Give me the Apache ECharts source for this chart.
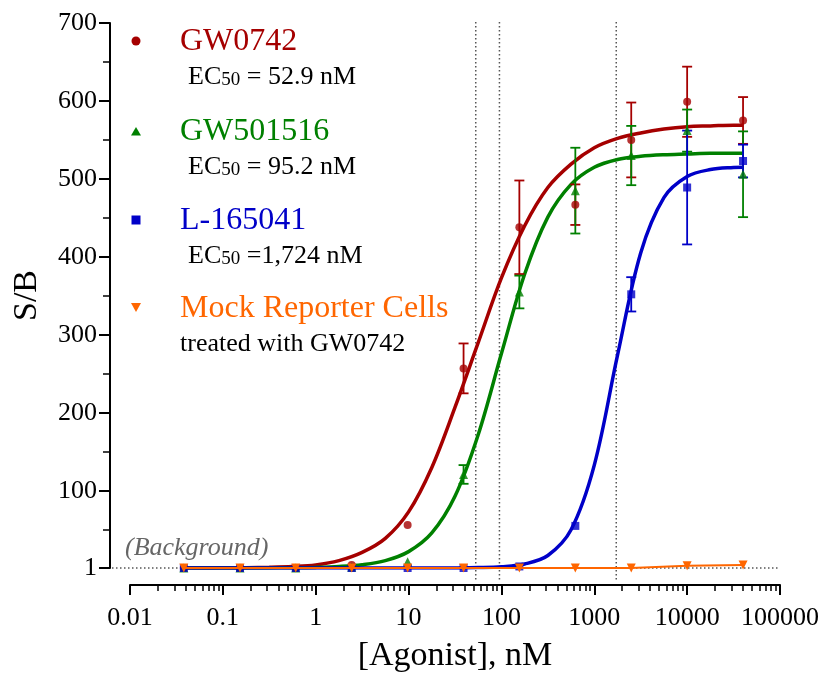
<!DOCTYPE html>
<html><head><meta charset="utf-8">
<script src="https://cdn.jsdelivr.net/npm/echarts@6/dist/echarts.min.js"></script>
<style>html,body{margin:0;padding:0;background:#fff}#c{width:820px;height:673px}</style>
</head><body><div id="c"></div><script>
// ---- data ----
const concentrations = [0.038, 0.153, 0.61, 2.44, 9.77, 39.1, 156, 625, 2500, 10000, 40000];
const gw0742Mean   = [1, 1, 1, 5, 56, 257, 438, 467, 550, 599, 575];
const gw0742Err    = [0, 0, 0, 0, 0, 32, 60, 26, 48, 45, 30];
const gw501516Mean = [1, 1, 1, 2, 9, 121, 355, 485, 530, 562, 506];
const gw501516Err  = [0, 0, 0, 0, 0, 12, 21, 55, 38, 27, 55];
const l165041Mean  = [1, 1, 1, 1, 1, 1, 3, 55, 352, 489, 523];
const l165041Err   = [0, 0, 0, 0, 0, 0, 0, 0, 22, 73, 21];
const mockMean     = [1, 1, 1, 1, 1, 1, 1, 1, 1, 4, 5];

// fitted curves at quarter-decade steps
const curveX      = [0.038, 0.056, 0.1, 0.178, 0.316, 0.562, 1, 1.78, 3.16, 5.62, 10, 17.8, 31.6, 56.2, 100, 178, 316, 562, 1000, 1780, 3160, 5620, 10000, 17800, 31600, 40000];
const gw0742Fit   = [1, 1, 1.2, 1.4, 1.9, 2.9, 5, 10.5, 21, 39, 73, 130, 207, 290, 373, 440, 489, 519, 540, 552, 559, 564, 567, 568, 569, 569];
const gw501516Fit = [1, 1, 1, 1, 1.1, 1.3, 1.8, 2.9, 5.2, 10.4, 22, 46, 93, 172, 276, 378, 451, 493, 515, 525, 529, 531, 532, 533, 533, 533];
const l165041Fit  = [1, 1, 1, 1, 1, 1, 1, 1, 1, 1, 1, 1, 1.1, 1.5, 2.6, 6.1, 17, 50, 133, 274, 405, 476, 503, 512, 514.7, 515];

const ec50Values = [52.9, 95.2, 1724];
const xTickValues = [0.01, 0.1, 1, 10, 100, 1000, 10000, 100000];
const xTickLabels = ['0.01', '0.1', '1', '10', '100', '1000', '10000', '100000'];
const yTickValues = [1, 100, 200, 300, 400, 500, 600, 700];
const yTickLabels = ['1', '100', '200', '300', '400', '500', '600', '700'];
const yMinorTicks = [50, 150, 250, 350, 450, 550, 650];
const seriesNames = ['GW0742', 'GW501516', 'L-165041', 'Mock Reporter Cells'];
const ec50Texts = ['= 52.9 nM', '= 95.2 nM', '=1,724 nM'];

// ---- styles ----
const RED = '#a50000', GREEN = '#008000', BLUE = '#0000c8', ORANGE = '#ff6600';
const SERIF = '"Liberation Serif", "DejaVu Serif", serif';

const xMinorTicks = [];
for (let d = -2; d < 5; d++) { for (let k = 2; k <= 9; k++) xMinorTicks.push(+(k * Math.pow(10, d)).toPrecision(3)); }

function pairs(xs, ys) { return xs.map((x, i) => [x, ys[i]]); }
function errData(xs, m, e) { return xs.map((x, i) => [x, m[i] - e[i], m[i] + e[i], e[i]]).filter(d => d[3] > 0); }

function errSeries(color, data) {
  return {
    type: 'custom', xAxisIndex: 0, yAxisIndex: 0, z: 3, silent: true,
    encode: { x: 0, y: [1, 2] }, data: data,
    renderItem: function (params, api) {
      const x = api.value(0);
      const lo = api.coord([x, api.value(1)]);
      const hi = api.coord([x, api.value(2)]);
      const cw = 5;
      const st = { stroke: color, lineWidth: 1.8, fill: null };
      return { type: 'group', children: [
        { type: 'line', shape: { x1: lo[0], y1: lo[1], x2: hi[0], y2: hi[1] }, style: st },
        { type: 'line', shape: { x1: lo[0] - cw, y1: lo[1], x2: lo[0] + cw, y2: lo[1] }, style: st },
        { type: 'line', shape: { x1: hi[0] - cw, y1: hi[1], x2: hi[0] + cw, y2: hi[1] }, style: st }
      ] };
    }
  };
}
function fitSeries(name, color, ys) {
  return { name: name + ' fit', type: 'line', data: pairs(curveX, ys), smooth: 0.35,
    showSymbol: false, symbol: 'none', lineStyle: { color: color, width: 3.5 }, z: 2, silent: true };
}
function pointSeries(name, color, symbol, size, ys) {
  return { name: name, type: 'scatter', data: pairs(concentrations, ys), symbol: symbol, symbolSize: size,
    itemStyle: { color: color }, z: 4 };
}

const chart = echarts.init(document.getElementById('c'), null, { renderer: 'canvas' });
const axisLineStyle = { color: '#000', width: 2 };
const option = {
  animation: false,
  backgroundColor: '#fff',
  grid: { left: 130, right: 40, top: 23, bottom: 105, containLabel: false, outerBoundsMode: 'none' },
  xAxis: [
    { type: 'log', logBase: 10, min: 0.01, max: 100000, position: 'bottom', offset: 17,
      name: '[Agonist], nM', nameLocation: 'middle', nameGap: 54,
      nameTextStyle: { fontFamily: SERIF, fontSize: 34, color: '#000' },
      axisLine: { show: true, lineStyle: axisLineStyle },
      axisTick: { show: true, length: 10, lineStyle: { color: '#000', width: 2 }, customValues: xTickValues },
      axisLabel: { show: true, customValues: xTickValues, margin: 20, fontFamily: SERIF, fontSize: 26, color: '#000',
        formatter: function (v) { const i = xTickValues.findIndex(t => Math.abs(Math.log10(t) - Math.log10(v)) < 1e-6); return i >= 0 ? xTickLabels[i] : ''; } },
      splitLine: { show: false }, minorTick: { show: false }, minorSplitLine: { show: false } },
    { type: 'log', logBase: 10, min: 0.01, max: 100000, position: 'bottom', offset: 17,
      axisLine: { show: false },
      axisTick: { show: true, length: 6, lineStyle: { color: '#000', width: 1.5 }, customValues: xMinorTicks },
      axisLabel: { show: false }, splitLine: { show: false } }
  ],
  yAxis: [
    { type: 'value', min: 1, max: 700, position: 'left', offset: 20,
      name: 'S/B', nameLocation: 'middle', nameGap: 66, nameRotate: 90,
      nameTextStyle: { fontFamily: SERIF, fontSize: 34, color: '#000' },
      axisLine: { show: true, lineStyle: axisLineStyle },
      axisTick: { show: true, length: 11, lineStyle: { color: '#000', width: 2 }, customValues: yTickValues },
      axisLabel: { show: true, customValues: yTickValues, margin: 13, fontFamily: SERIF, fontSize: 26, color: '#000',
        formatter: function (v) { const i = yTickValues.indexOf(Math.round(v)); return i >= 0 ? yTickLabels[i] : ''; } },
      splitLine: { show: false } },
    { type: 'value', min: 1, max: 700, position: 'left', offset: 20,
      axisLine: { show: false },
      axisTick: { show: true, length: 7, lineStyle: { color: '#000', width: 1.5 }, customValues: yMinorTicks },
      axisLabel: { show: false }, splitLine: { show: false } }
  ],
  series: [
    fitSeries(seriesNames[0], RED, gw0742Fit),
    fitSeries(seriesNames[1], GREEN, gw501516Fit),
    fitSeries(seriesNames[2], BLUE, l165041Fit),
    errSeries(RED, errData(concentrations, gw0742Mean, gw0742Err)),
    errSeries(GREEN, errData(concentrations, gw501516Mean, gw501516Err)),
    errSeries(BLUE, errData(concentrations, l165041Mean, l165041Err)),
    pointSeries(seriesNames[0], RED, 'circle', 8, gw0742Mean),
    pointSeries(seriesNames[1], GREEN, 'triangle', 9, gw501516Mean),
    pointSeries(seriesNames[2], BLUE, 'rect', 8, l165041Mean),
    { name: seriesNames[3], type: 'line', data: pairs(concentrations, mockMean), symbol: 'triangle', symbolRotate: 180,
      symbolSize: 9, showSymbol: true, itemStyle: { color: ORANGE }, lineStyle: { color: ORANGE, width: 2 }, z: 5 }
  ]
};
chart.setOption(option);

// ---- reference lines, legend block, annotation (positions from the library's scales) ----
const toX = v => chart.convertToPixel({ xAxisIndex: 0 }, v);
const toY = v => chart.convertToPixel({ yAxisIndex: 0 }, v);
const dotted = { stroke: '#555', lineWidth: 1.5, lineDash: [1.5, 2.5] };
const g = [];
const yTop = toY(700) - 1, yBase = toY(1);
ec50Values.forEach(v => {
  const x = toX(v);
  g.push({ type: 'line', z: 1, silent: true, shape: { x1: x, y1: yTop, x2: x, y2: yBase + 14 }, style: dotted });
});
g.push({ type: 'line', z: 1, silent: true, shape: { x1: toX(0.01) - 18, y1: yBase, x2: toX(100000), y2: yBase }, style: dotted });
g.push({ type: 'text', z: 10, silent: true, x: 125, y: yBase - 20,
  style: { text: '(Background)', fill: '#666', font: 'italic 26px ' + SERIF, verticalAlign: 'middle', align: 'left' } });

const legendColors = [RED, GREEN, BLUE, ORANGE];
const legendY = [42, 132, 221, 309];
const subY = [77, 167, 256, 344];
legendY.forEach((y, i) => {
  const c = legendColors[i], sx = 136;
  if (i === 0) g.push({ type: 'circle', z: 10, shape: { cx: sx, cy: y - 1, r: 4.5 }, style: { fill: c } });
  if (i === 1) g.push({ type: 'polygon', z: 10, shape: { points: [[sx, y - 5], [sx + 5, y + 3.5], [sx - 5, y + 3.5]] }, style: { fill: c } });
  if (i === 2) g.push({ type: 'rect', z: 10, shape: { x: sx - 4.5, y: y - 5.5, width: 9, height: 9 }, style: { fill: c } });
  if (i === 3) g.push({ type: 'polygon', z: 10, shape: { points: [[sx - 5, y - 6], [sx + 5, y - 6], [sx, y + 3]] }, style: { fill: c } });
  g.push({ type: 'text', z: 10, silent: true, x: 180, y: y,
    style: { text: seriesNames[i], fill: c, font: '32px ' + SERIF, verticalAlign: 'middle', align: 'left' } });
  if (i < 3) {
    g.push({ type: 'text', z: 10, silent: true, x: 188, y: subY[i],
      style: { text: '{a|EC}{s|50}{a| ' + ec50Texts[i] + '}', verticalAlign: 'middle', align: 'left',
        rich: { a: { fontSize: 26, fontFamily: SERIF, fill: '#000', lineHeight: 26 },
                s: { fontSize: 19, fontFamily: SERIF, fill: '#000', lineHeight: 12, verticalAlign: 'bottom' } } } });
  } else {
    g.push({ type: 'text', z: 10, silent: true, x: 180, y: subY[i],
      style: { text: 'treated with GW0742', fill: '#000', font: '26px ' + SERIF, verticalAlign: 'middle', align: 'left' } });
  }
});
chart.setOption({ graphic: { elements: g } });
</script></body></html>
